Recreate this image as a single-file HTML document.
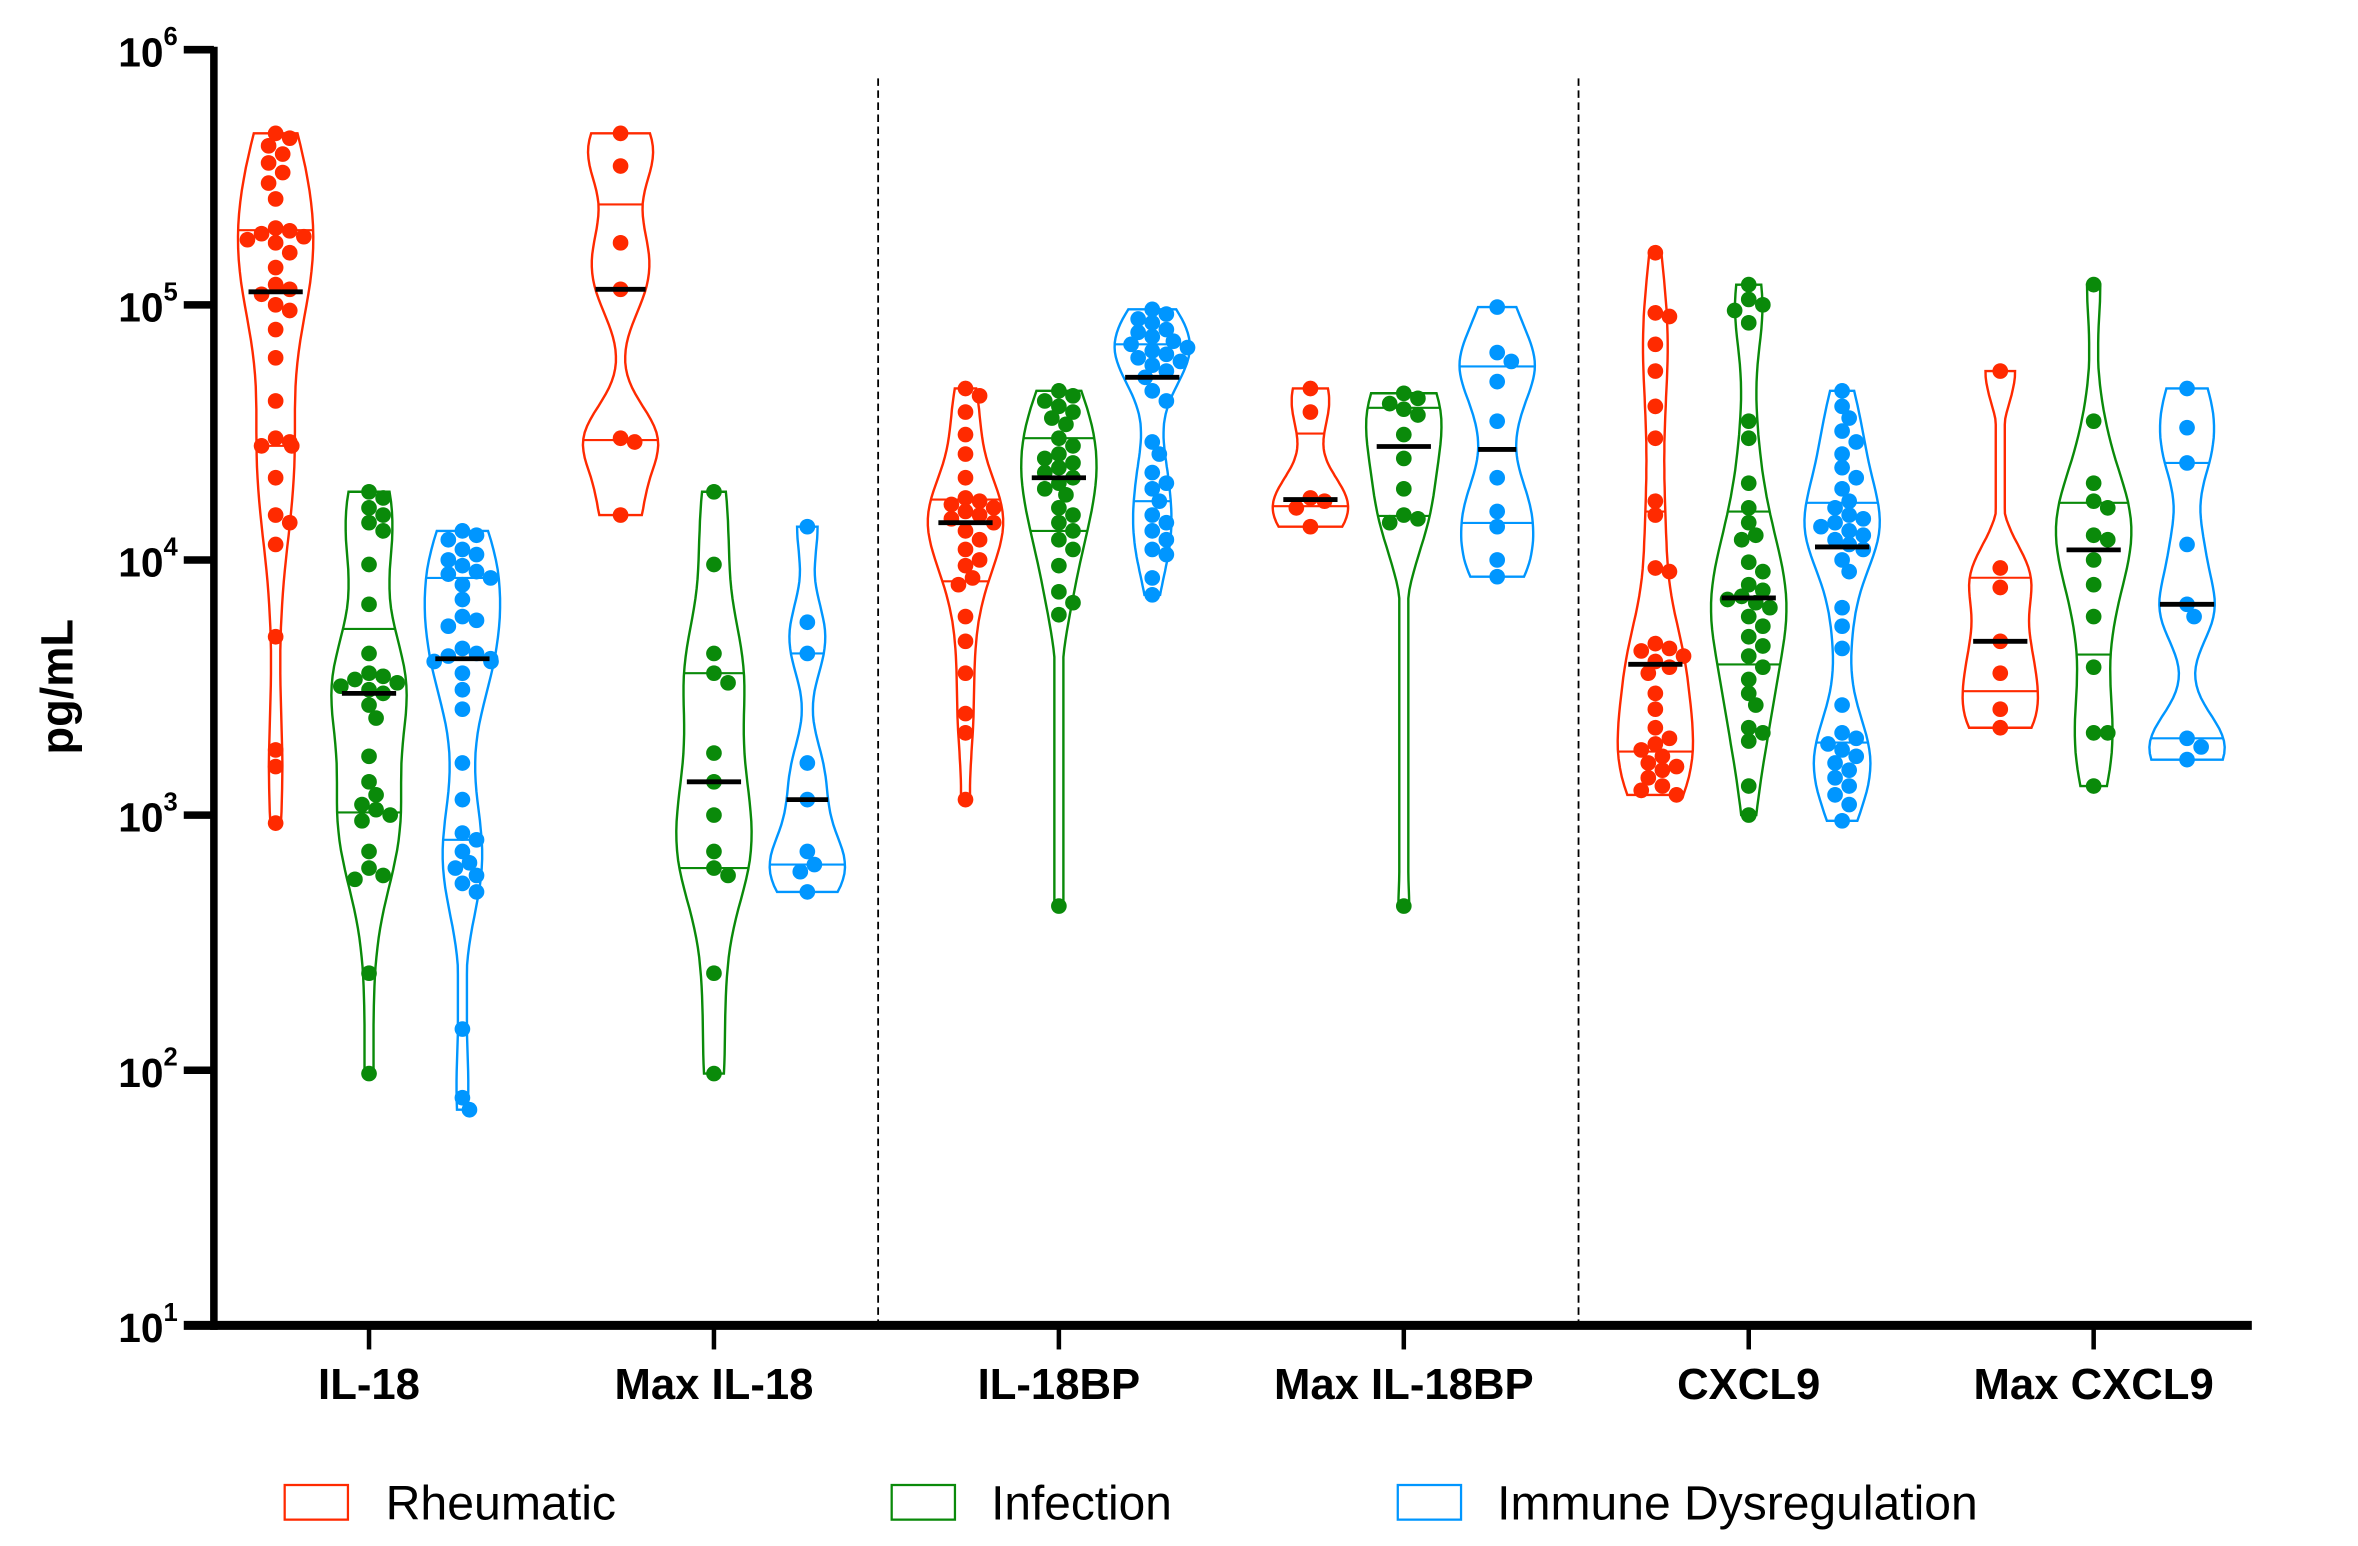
<!DOCTYPE html>
<html><head><meta charset="utf-8"><style>
html,body{margin:0;padding:0;background:#fff;}
svg{display:block;}
text{font-family:"Liberation Sans",Arial,sans-serif;}
</style></head><body>
<svg id="chart" width="2358" height="1546" viewBox="0 0 1565.5 1026.5" preserveAspectRatio="none" xmlns="http://www.w3.org/2000/svg">
<g id="axes"></g>
<g id="plot"></g>
<g id="legend">
  <rect x="189" y="986" width="42" height="23" fill="none" stroke="#ff2a00" stroke-width="1.5"/>
  <text x="256" y="1009" font-size="32" textLength="153" lengthAdjust="spacingAndGlyphs">Rheumatic</text>
  <rect x="592" y="986" width="42" height="23" fill="none" stroke="#0a8a0a" stroke-width="1.5"/>
  <text x="658" y="1009" font-size="32" textLength="120" lengthAdjust="spacingAndGlyphs">Infection</text>
  <rect x="928" y="986" width="42" height="23" fill="none" stroke="#0096ff" stroke-width="1.5"/>
  <text x="994" y="1009" font-size="32" textLength="319" lengthAdjust="spacingAndGlyphs">Immune Dysregulation</text>
</g>
</svg>
<script>
const categories = ["IL-18","Max IL-18","IL-18BP","Max IL-18BP","CXCL9","Max CXCL9"];
const seriesNames = ["Rheumatic","Infection","Immune Dysregulation"];
const tickExponents = [1,2,3,4,5,6];
const il18 = [
 [4.7e5,4.5e5,4.2e5,3.9e5,3.6e5,3.3e5,3e5,2.6e5,2e5,1.95e5,1.9e5,1.85e5,1.8e5,1.75e5,1.6e5,1.4e5,1.2e5,1.15e5,1.1e5,1.0e5,9.5e4,8e4,6.2e4,4.2e4,3e4,2.9e4,2.8e4,2.8e4,2.1e4,1.5e4,1.4e4,1.15e4,5e3,1.8e3,1.55e3,930],
 [1.85e4,1.75e4,1.6e4,1.5e4,1.4e4,1.3e4,9.6e3,6.7e3,4.3e3,3.6e3,3.5e3,3.4e3,3.3e3,3.2e3,3.1e3,3e3,2.7e3,2.4e3,1.7e3,1.35e3,1.2e3,1.1e3,1.05e3,1e3,950,720,620,580,560,240,97],
 [1.3e4,1.25e4,1.2e4,1.1e4,1.05e4,1e4,9.5e3,9e3,8.8e3,8.5e3,8e3,7e3,6e3,5.8e3,5.5e3,4.5e3,4.3e3,4.2e3,4.1e3,4e3,4e3,3.6e3,3.1e3,2.6e3,1.6e3,1.15e3,850,800,720,650,620,580,540,500,145,78,70]];
const maxIl18 = [
 [4.7e5,3.5e5,1.75e5,1.15e5,3e4,2.9e4,1.5e4],
 [1.85e4,9.6e3,4.3e3,3.6e3,3.3e3,1.75e3,1.35e3,1e3,720,620,580,240,97],
 [1.35e4,5.7e3,4.3e3,1.6e3,1.15e3,720,640,600,500]];
const il18bp = [
 [4.7e4,4.4e4,3.8e4,3.1e4,2.6e4,2.1e4,1.75e4,1.7e4,1.65e4,1.6e4,1.55e4,1.5e4,1.45e4,1.4e4,1.3e4,1.2e4,1.1e4,1e4,9.5e3,8.5e3,8e3,6e3,4.8e3,3.6e3,2.5e3,2.1e3,1.15e3],
 [4.6e4,4.4e4,4.2e4,4e4,3.8e4,3.6e4,3.4e4,3e4,2.8e4,2.6e4,2.5e4,2.4e4,2.3e4,2.2e4,2.1e4,2e4,1.9e4,1.8e4,1.6e4,1.5e4,1.4e4,1.3e4,1.2e4,1.1e4,9.5e3,7.5e3,6.8e3,6.1e3,440],
 [9.6e4,9.2e4,8.8e4,8.5e4,8e4,7.8e4,7.5e4,7.2e4,7e4,6.8e4,6.6e4,6.4e4,6.2e4,6e4,5.8e4,5.5e4,5.2e4,4.6e4,4.2e4,2.9e4,2.6e4,2.2e4,2e4,1.9e4,1.7e4,1.5e4,1.4e4,1.3e4,1.2e4,1.1e4,1.05e4,8.5e3,7.3e3]];
const maxIl18bp = [
 [4.7e4,3.8e4,1.75e4,1.7e4,1.6e4,1.35e4],
 [4.5e4,4.3e4,4.1e4,3.9e4,3.7e4,3.1e4,2.5e4,1.9e4,1.5e4,1.45e4,1.4e4,440],
 [9.8e4,6.5e4,6e4,5e4,3.5e4,2.1e4,1.55e4,1.35e4,1e4,8.6e3]];
const cxcl9 = [
 [1.6e5,9.3e4,9e4,7e4,5.5e4,4e4,3e4,1.7e4,1.5e4,9.3e3,9e3,4.7e3,4.5e3,4.4e3,4.2e3,4e3,3.8e3,3.6e3,3e3,2.6e3,2.2e3,2e3,1.9e3,1.8e3,1.7e3,1.6e3,1.55e3,1.5e3,1.4e3,1.3e3,1.25e3,1.2e3],
 [1.2e5,1.05e5,1e5,9.5e4,8.5e4,3.5e4,3e4,2e4,1.6e4,1.4e4,1.25e4,1.2e4,9.8e3,9e3,8e3,7.6e3,7.2e3,7e3,6.8e3,6.5e3,6e3,5.5e3,5e3,4.6e3,4.2e3,3.8e3,3.4e3,3e3,2.7e3,2.2e3,2.1e3,1.95e3,1.3e3,1e3],
 [4.6e4,4e4,3.6e4,3.2e4,2.9e4,2.6e4,2.3e4,2.1e4,1.9e4,1.7e4,1.6e4,1.5e4,1.45e4,1.4e4,1.35e4,1.3e4,1.25e4,1.2e4,1.15e4,1.1e4,1e4,9e3,6.5e3,5.5e3,4.5e3,2.7e3,2.1e3,2e3,1.9e3,1.8e3,1.7e3,1.6e3,1.5e3,1.4e3,1.3e3,1.2e3,1.1e3,950]];
const maxCxcl9 = [
 [5.5e4,9.3e3,7.8e3,4.8e3,3.6e3,2.6e3,2.2e3],
 [1.2e5,3.5e4,2e4,1.7e4,1.6e4,1.25e4,1.2e4,1e4,8e3,6e3,3.8e3,2.1e3,2.1e3,1.3e3],
 [4.7e4,3.3e4,2.4e4,1.15e4,6.7e3,6e3,2e3,1.85e3,1.65e3]];
const allData = [il18, maxIl18, il18bp, maxIl18bp, cxcl9, maxCxcl9];

const colors = ["#ff2a00","#0a8a0a","#0096ff"];
const NS = "http://www.w3.org/2000/svg";
const X0 = 142, X1 = 1495, YTOP = 33, YBOT = 880;
function yScale(v){ return YBOT - (Math.log10(v) - 1) / 5 * (YBOT - YTOP); }
function catX(i){ return 245 + i * 229; }
function seriesX(i, s){ return catX(i) + (s - 1) * 62; }
function mk(tag, attrs, parent){ const e = document.createElementNS(NS, tag); for (const k in attrs) e.setAttribute(k, attrs[k]); parent.appendChild(e); return e; }

const axes = document.getElementById('axes');
const plot = document.getElementById('plot');

[583, 1048].forEach(function(x){
  const l = mk('line', {x1:x, x2:x, y1:52, y2:YBOT, stroke:'#000', 'stroke-width':1.2, 'stroke-dasharray':'5,3'}, axes);
  
  
});
const ya = mk('line', {x1:X0, x2:X0, y1:YTOP-2, y2:YBOT+3, stroke:'#000', 'stroke-width':5}, axes);


const xa = mk('line', {x1:X0-20, x2:X1, y1:YBOT, y2:YBOT, stroke:'#000', 'stroke-width':6}, axes);


tickExponents.forEach(function(e){
  const y = yScale(Math.pow(10, e));
  if (e > 1) {
    const t = mk('line', {x1:X0-20, x2:X0, y1:y, y2:y, stroke:'#000', 'stroke-width':5}, axes);
    
    
  }
  const tx = mk('text', {x:X0-24, y:y+11, 'text-anchor':'end', 'font-size':27, 'font-weight':'bold'}, axes);
  
  
  tx.textContent = '10';
  const sup = mk('tspan', {dy:-14, 'font-size':17}, tx);
  sup.textContent = String(e);
});
const yt = mk('text', {x:0, y:0, transform:'translate(48,456) rotate(-90)', 'text-anchor':'middle', 'font-size':30, 'font-weight':'bold'}, axes);


yt.textContent = 'pg/mL';
categories.forEach(function(c, i){
  const x = catX(i);
  const t = mk('line', {x1:x, x2:x, y1:YBOT, y2:YBOT+16, stroke:'#000', 'stroke-width':3}, axes);
  
  
  const l = mk('text', {x:x, y:929, 'text-anchor':'middle', 'font-size':29, 'font-weight':'bold'}, axes);
  
  
  l.textContent = c;
});

function quantile(sorted, q){
  const pos = (sorted.length - 1) * q, lo = Math.floor(pos), hi = Math.ceil(pos);
  return sorted[lo] + (sorted[hi] - sorted[lo]) * (pos - lo);
}

allData.forEach(function(group, ci){
  group.forEach(function(vals, si){
    const cx = seriesX(ci, si), col = colors[si];
    const logs = vals.map(function(v){ return Math.log10(v); }).sort(function(a,b){ return a-b; });
    const lmin = logs[0], lmax = logs[logs.length-1];
    const bw = Math.max(0.12, (lmax - lmin) * 0.09);
    const steps = 60, dens = [];
    for (let k = 0; k <= steps; k++) {
      const l = lmin + (lmax - lmin) * k / steps;
      let d = 0;
      logs.forEach(function(p){ d += Math.exp(-0.5 * Math.pow((l - p) / bw, 2)); });
      dens.push([l, d]);
    }
    const dmax = Math.max.apply(null, dens.map(function(d){ return d[1]; }));
    const W = 25;
    function hw(l){ let d = 0; logs.forEach(function(p){ d += Math.exp(-0.5 * Math.pow((l - p) / bw, 2)); }); return Math.max(3, d / dmax * W); }
    let pts = [];
    dens.forEach(function(d){ pts.push([cx + Math.max(3, d[1]/dmax*W), yScale(Math.pow(10, d[0]))]); });
    for (let k = dens.length - 1; k >= 0; k--) pts.push([cx - Math.max(3, dens[k][1]/dmax*W), yScale(Math.pow(10, dens[k][0]))]);
    const vio = mk('path', {d:'M' + pts.map(function(p){ return p[0].toFixed(1) + ',' + p[1].toFixed(1); }).join('L') + 'Z', fill:'none', stroke:col, 'stroke-width':1.6}, plot);
    
    
    [0.25, 0.75].forEach(function(q){
      const l = quantile(logs, q), w = hw(l), y = yScale(Math.pow(10, l));
      const ql = mk('line', {x1:cx-w, x2:cx+w, y1:y, y2:y, stroke:col, 'stroke-width':1.4}, plot);
      
      
    });
    const ml = quantile(logs, 0.5), mw = Math.min(hw(ml), 18), my = yScale(Math.pow(10, ml));
    const r = 5.2, placed = [];
    const sortedVals = vals.slice().sort(function(a,b){ return b-a; });
    sortedVals.forEach(function(v){
      const y = yScale(v);
      const lim = Math.max(0, hw(Math.log10(v)) - 2);
      let best = 0;
      const cand = [0];
      for (let k = 1; k < 12; k++) { cand.push(k * r * 0.9); cand.push(-k * r * 0.9); }
      for (let j = 0; j < cand.length; j++) {
        const dx = cand[j];
        const ok = placed.every(function(p){ return Math.hypot(p[0] - dx, p[1] - y) >= 2 * r * 0.85; });
        if (ok) { best = dx; break; }
      }
      if (Math.abs(best) > lim + r) best = Math.sign(best) * (lim);
      placed.push([best, y]);
      const c = mk('circle', {cx:cx + best, cy:y, r:r, fill:col}, plot);
      
      
    });
    const med = mk('line', {x1:cx-mw, x2:cx+mw, y1:my, y2:my, stroke:'#000', 'stroke-width':3.2}, plot);
    
    
  });
});
</script>
</body></html>
